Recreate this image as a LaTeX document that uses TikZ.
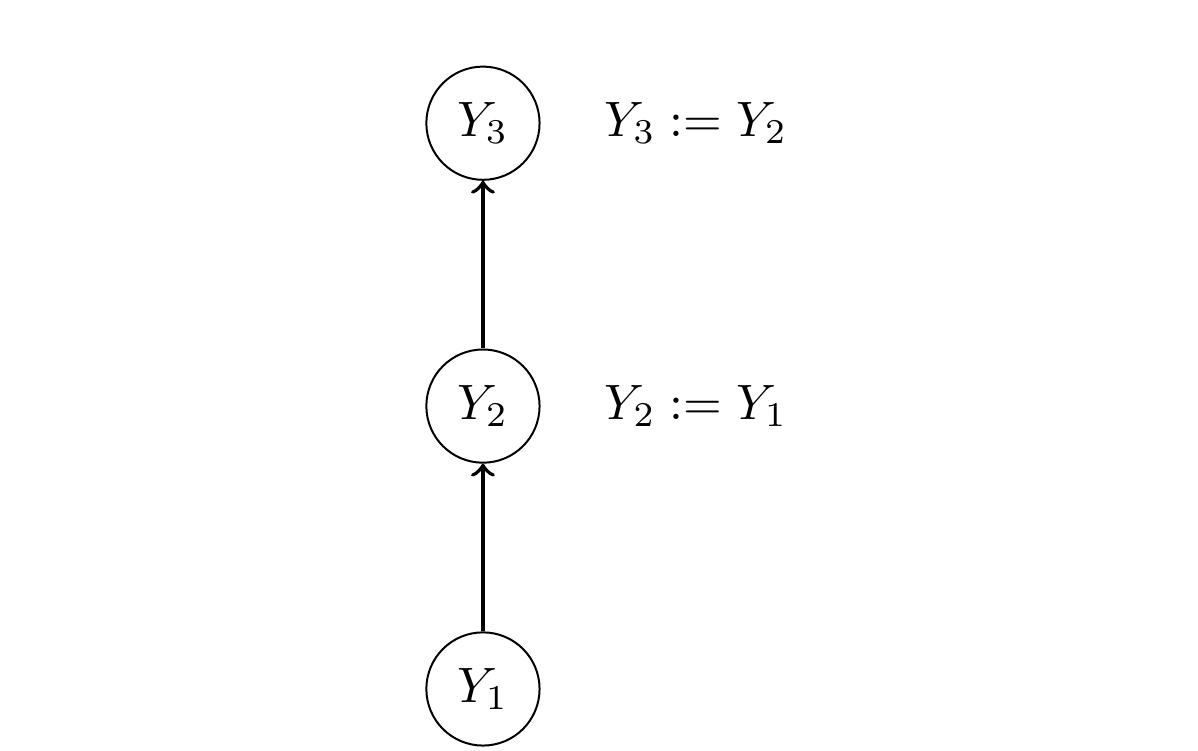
\documentclass[tikz,border=0pt]{standalone}
\usepackage{amsmath,amssymb}
\usetikzlibrary{arrows, positioning}

\begin{document}
\begin{tikzpicture}[
    var/.style={circle, draw, minimum size=0.8cm, inner sep=0pt},
    arrow/.style={thick,->}
  ]
    \useasboundingbox (-3.413,-0.438) rectangle (5.053,4.869);

    \node (y1) [var] at (0,0) {$Y_1$};
    \node (y2) [var, above=1.185cm of y1] {$Y_2$};
    \node (y3) [var, above=1.185cm of y2] {$Y_3$};

    \node (eq2) [right=0.33cm of y2] {$Y_2 := Y_1$};
    \node (eq3) [right=0.33cm of y3] {$Y_3 := Y_2$};

    \draw [arrow] (y1) -- (y2);
    \draw [arrow] (y2) -- (y3);

  \end{tikzpicture}
\end{document}
